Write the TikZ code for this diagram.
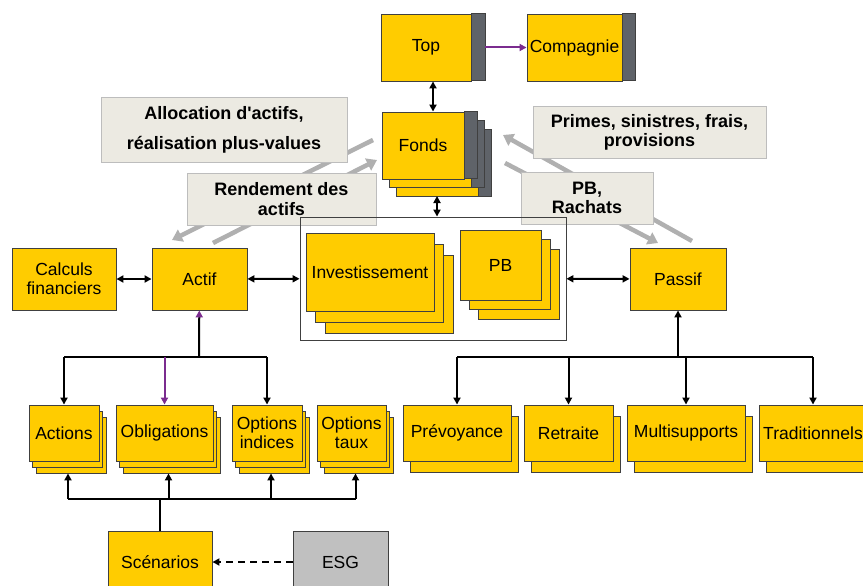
\documentclass[tikz,border=0pt]{standalone}
\usepackage{fontspec}
\setmainfont{Liberation Sans}
\usetikzlibrary{arrows.meta, shadows}
\definecolor{boxyellow}{HTML}{FFCC00}
\definecolor{stripgrey}{HTML}{5F6369}
\definecolor{notefill}{HTML}{ECEAE2}
\definecolor{noteline}{HTML}{BDBDBD}
\definecolor{flowgrey}{HTML}{B0B0B0}
\definecolor{linkviolet}{HTML}{7B2C8F}
\definecolor{esggrey}{HTML}{C0C0C0}
\tikzset{
  box/.style={rectangle, draw=black!75, line width=0.9pt, fill=boxyellow, inner sep=1pt, align=center, font=\fontsize{17.5}{19}\selectfont},
  strip/.style={draw=black!75, line width=0.9pt, fill=stripgrey},
  note/.style={rectangle, draw=noteline, line width=1pt, fill=notefill, align=center, font=\bfseries\fontsize{18}{19.5}\selectfont},
  link/.style={line width=2pt, -{Triangle[length=7pt,width=7pt]}},
  twolink/.style={line width=2pt, {Triangle[length=7pt,width=7pt]}-{Triangle[length=7pt,width=7pt]}},
  flow/.style={flowgrey, line width=4.5pt, -{Triangle[length=10pt,width=13pt]}},
}
\begin{document}
\begin{tikzpicture}[x=1pt, y=-1pt]
      \useasboundingbox (0,0) rectangle (863,586);
      \clip (0,0) rectangle (863,586);

      % Top and company
      \node[box, minimum width=90pt, minimum height=67pt] (top) at (426,47.5) {Top};
      \draw[strip] (top.north east) rectangle ++(14,67);
      \node[box, minimum width=95pt, minimum height=67pt] (comp) at (574.5,47.5) {Compagnie};
      \draw[strip] (comp.north east) rectangle ++(13,67);
      \draw[link, linkviolet] ([xshift=14pt]top.east) -- (comp.west);

      % Funds (stacked)
      \foreach \dx/\dy in {14/17, 7/8} {
        \draw[box] (382+\dx,112+\dy) rectangle (464+\dx,179+\dy);
        \draw[strip] (464+\dx,112+\dy) rectangle (477+\dx,179+\dy);
      }
      \node[box, minimum width=82pt, minimum height=67pt] (fonds) at (423,145.5) {Fonds};
      \draw[strip] (fonds.north east) rectangle ++(13,67);
      \coordinate (fondsbase) at (437,196);
      \draw[twolink] ([xshift=7pt]top.south) -- ([xshift=10pt]fonds.north);

      % Grey flows
      \coordinate (allocfrom) at (373,140);
      \coordinate (allocto) at (172,240);
      \coordinate (rendfrom) at (213,243);
      \coordinate (rendto) at (377,160);
      \coordinate (primfrom) at (692,241);
      \coordinate (primto) at (503,135);
      \coordinate (pbfrom) at (505,163);
      \coordinate (pbto) at (658,243);
      \draw[flow] (allocfrom) -- (allocto);
      \draw[flow] (rendfrom) -- (rendto);
      \draw[flow] (primfrom) -- (primto);
      \draw[flow] (pbfrom) -- (pbto);

      % Flow labels
      \node[note, minimum width=246pt, minimum height=64pt] (alloc) at (224,130) {Allocation d\textquotesingle actifs,\\[11pt]réalisation plus-values};
      \node[note, minimum width=189pt, minimum height=52pt] (rend) at (281.5,199) {Rendement des\\actifs};
      \node[note, minimum width=233pt, minimum height=51pt] (prim) at (649.5,132.5) {Primes, sinistres, frais,\\provisions};
      \node[note, minimum width=132pt, minimum height=52pt] (pbrach) at (587,198) {PB,\\Rachats};

      % Pool with investment and PB
      \node[rectangle, draw=black!75, line width=0.9pt, minimum width=266pt, minimum height=123pt] (pool) at (433,278.5) {};
      \draw[twolink] (fondsbase) -- (fondsbase |- pool.north);
      \node[box, minimum width=128pt, minimum height=78pt,
        copy shadow={shadow xshift=19pt, shadow yshift=-22pt},
        copy shadow={shadow xshift=9.5pt, shadow yshift=-11pt}] (invest) at (370,272) {Investissement};
      \node[box, minimum width=81pt, minimum height=70pt,
        copy shadow={shadow xshift=18pt, shadow yshift=-19pt},
        copy shadow={shadow xshift=9pt, shadow yshift=-9.5pt}] (pb) at (500.5,265) {PB};

      % Middle row
      \node[box, minimum width=104pt, minimum height=62pt] (calc) at (64,279) {Calculs\\financiers};
      \node[box, minimum width=95pt, minimum height=62pt] (actif) at (199.5,279) {Actif};
      \node[box, minimum width=96pt, minimum height=62pt] (passif) at (678,279) {Passif};
      \draw[twolink] (calc) -- (actif);
      \draw[twolink] (actif) -- (pool);
      \draw[twolink] (pool) -- (passif);

      % Assets
      \tikzset{asset/.style={box, minimum height=56pt,
        copy shadow={shadow xshift=7pt, shadow yshift=-12pt},
        copy shadow={shadow xshift=3.5pt, shadow yshift=-6pt}}}
      \node[asset, minimum width=70pt] (actions) at (64,433) {Actions};
      \node[asset, minimum width=97pt] (oblig) at (164.5,433) {Obligations};
      \node[asset, minimum width=70pt] (optind) at (267,433) {Options\\indices};
      \node[asset, minimum width=69pt] (opttaux) at (351.5,433) {Options\\taux};

      % Liabilities
      \tikzset{liab/.style={box, minimum height=56pt,
        copy shadow={shadow xshift=7.5pt, shadow yshift=-11.5pt}}}
      \node[liab, minimum width=108pt] (prev) at (457,433) {Prévoyance};
      \node[liab, minimum width=89pt] (retr) at (568.5,433) {Retraite};
      \node[liab, minimum width=118pt] (multi) at (686,433) {Multisupports};
      \node[liab, minimum width=108pt] (trad) at (813,433) {Traditionnels};

      % Asset tree
      \coordinate (abus) at (199,357);
      \draw[line width=2pt] (abus -| actions) -- (abus -| optind);
      \draw[line width=2pt, -{Triangle[length=7pt,width=7pt,color=linkviolet]}] (abus) -- (actif);
      \draw[link] (abus -| actions) -- (actions);
      \draw[link, linkviolet] (abus -| oblig) -- (oblig);
      \draw[link] (abus -| optind) -- (optind);

      % Liability tree
      \coordinate (pbus) at (678,357);
      \draw[line width=2pt] (pbus -| prev) -- (pbus -| trad);
      \draw[link] (pbus) -- (passif);
      \foreach \n in {prev, retr, multi, trad}
        \draw[link] (pbus -| \n) -- (\n);

      % Scenarios
      \node[box, minimum width=104pt, minimum height=62pt] (scen) at (160,562) {Scénarios};
      \node[box, fill=esggrey, minimum width=95pt, minimum height=62pt] (esg) at (340.5,562) {ESG};
      \draw[line width=2pt, dash pattern=on 7pt off 5pt, -{Triangle[length=7pt,width=7pt]}] (esg) -- (scen);
      \coordinate (sbus) at (160,499);
      \draw[line width=2pt] (scen.north) -- (sbus);
      \draw[line width=2pt] ([xshift=4pt]sbus -| actions) -- ([xshift=4pt]sbus -| opttaux);
      \foreach \n in {actions, oblig, optind, opttaux}
        \draw[link] ([xshift=4pt]sbus -| \n) -- ([xshift=4pt,yshift=-12pt]\n.south);
    \end{tikzpicture}
\end{document}
